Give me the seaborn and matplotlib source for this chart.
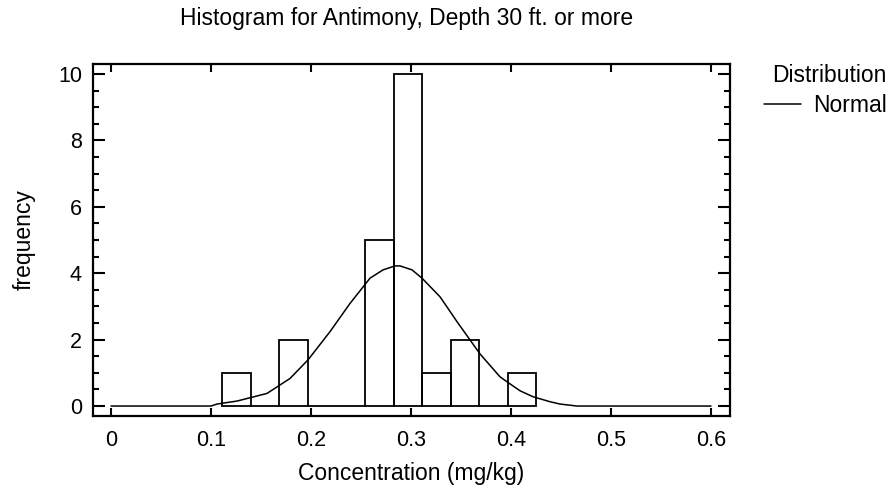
import matplotlib
matplotlib.use("Agg")
import matplotlib.pyplot as plt
from matplotlib.ticker import MultipleLocator
import seaborn as sns

# histogram bins
bin_edges = [0.111, 0.1396, 0.168, 0.197, 0.2254, 0.254, 0.2826, 0.311, 0.340, 0.368, 0.397, 0.425]
counts = [1, 0, 2, 0, 0, 5, 10, 1, 2, 0, 1]

# fitted normal curve
curve_x = [0.0, 0.100, 0.106, 0.126, 0.156, 0.179, 0.197, 0.219, 0.239, 0.259, 0.272, 0.284,
           0.289, 0.301, 0.311, 0.329, 0.339, 0.346, 0.369, 0.389, 0.396, 0.409, 0.422,
           0.439, 0.449, 0.466, 0.600]
curve_y = [0.0, 0.0, 0.06, 0.15, 0.38, 0.83, 1.39, 2.24, 3.09, 3.85, 4.10, 4.22,
           4.22, 4.10, 3.85, 3.29, 2.85, 2.54, 1.57, 0.88, 0.73, 0.46, 0.28,
           0.13, 0.06, 0.0, 0.0]

x_ticks = [0, 0.1, 0.2, 0.3, 0.4, 0.5, 0.6]
x_ticklabels = ["0", "0.1", "0.2", "0.3", "0.4", "0.5", "0.6"]

sns.set_style("white")
plt.rcParams['font.family'] = ['Liberation Sans', 'DejaVu Sans']
for k in ["text.color", "axes.labelcolor", "xtick.color", "ytick.color"]:
    plt.rcParams[k] = "black"

fig = plt.figure(figsize=(8.91, 4.87), dpi=100)
ax = fig.add_axes([0.1044, 0.1458, 0.7149, 0.7228])

centers = [(a + b) / 2 for a, b in zip(bin_edges[:-1], bin_edges[1:])]
sns.histplot(x=centers, weights=counts, bins=bin_edges, fill=False,
             color="black", linewidth=1.3, ax=ax)
sns.lineplot(x=curve_x, y=curve_y, color="black", linewidth=1.1, ax=ax,
             label="Normal")

ax.set_xlim(-0.018, 0.619)
ax.set_ylim(-0.3, 10.3)
ax.yaxis.set_major_locator(MultipleLocator(2))
ax.yaxis.set_minor_locator(MultipleLocator(0.5))
ax.set_xticks(x_ticks)
ax.set_xticklabels(x_ticklabels)
ax.tick_params(axis="x", which="major", direction="in", length=5.5, width=1.5,
               top=True, bottom=True, labelsize=15.5, pad=10)
ax.tick_params(axis="y", which="major", direction="in", length=8.5, width=1.5,
               left=True, right=True, labelsize=15.5, pad=8)
ax.tick_params(axis="y", which="minor", direction="in", length=4.5, width=1.5,
               left=True, right=True)
for s in ax.spines.values():
    s.set_linewidth(1.6)
    s.set_color("black")

ax.set_xlabel("Concentration (mg/kg)", fontsize=16.5, labelpad=8)
ax.set_ylabel("frequency", fontsize=16.5, labelpad=16)
fig.suptitle("Histogram for Antimony, Depth 30 ft. or more", fontsize=16.5,
             x=0.456, y=0.963, va="center")

leg = ax.legend(title="Distribution", loc="upper right",
                bbox_to_anchor=(887 / 891, 1 - 64 / 487), bbox_transform=fig.transFigure,
                frameon=False, fontsize=16.5, title_fontsize=16.5,
                handlelength=1.6, handletextpad=0.55, borderaxespad=0.0,
                borderpad=0.0, labelspacing=0.3, alignment="right")

fig.savefig("out.png", dpi=100)
